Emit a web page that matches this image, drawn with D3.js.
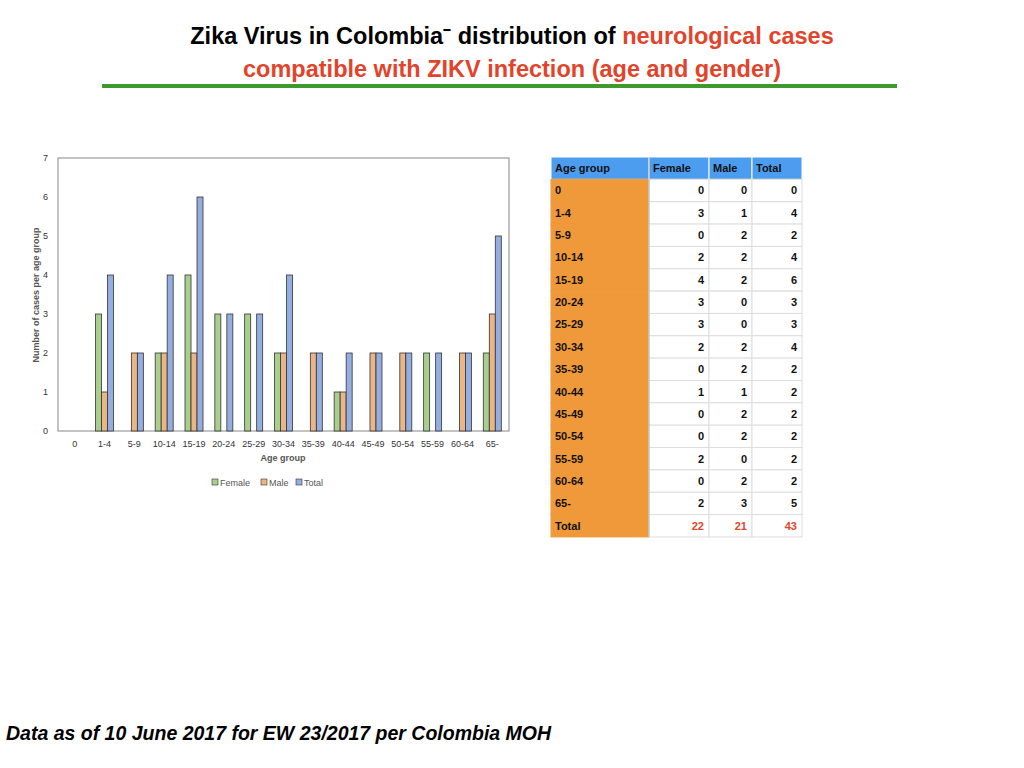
<!DOCTYPE html>
<html><head><meta charset="utf-8">
<script src="https://cdn.jsdelivr.net/npm/d3@7"></script>
<style>body{margin:0;background:#fff;font-family:"Liberation Sans",Arial,sans-serif}</style>
</head><body><svg id="canvas" width="1024" height="768"></svg>
<script>
var ageGroups=["0","1-4","5-9","10-14","15-19","20-24","25-29","30-34","35-39","40-44","45-49","50-54","55-59","60-64","65-"];
var female=[0,3,0,2,4,3,3,2,0,1,0,0,2,0,2];
var male=[0,1,2,2,2,0,0,2,2,1,2,2,0,2,3];
var total=[0,4,2,4,6,3,3,4,2,2,2,2,2,2,5];
var seriesNames=["Female","Male","Total"];
var colors=["#a9cf8e","#eab587","#94aee0"];
var yTicks=[0,1,2,3,4,5,6,7];

var svg=d3.select("#canvas");
var txtColor="#333";

// title
svg.append("text").attr("x",512).attr("y",44).attr("text-anchor","middle")
  .style("font-size","23.5px").style("font-weight","bold")
  .call(function(t){
    t.append("tspan").attr("fill","#000").text("Zika Virus in Colombia\u207B  distribution of ");
    t.append("tspan").attr("fill","#e2442b").text("neurological cases");
  });
svg.append("text").attr("x",512).attr("y",77).attr("text-anchor","middle")
  .style("font-size","23.5px").style("font-weight","bold").attr("fill","#e2442b")
  .text("compatible with ZIKV infection (age and gender)");
svg.append("line").attr("x1",102).attr("x2",897).attr("y1",86).attr("y2",86)
  .attr("stroke","#3f9a2e").attr("stroke-width",4);

// chart
var pLeft=58,pRight=509,pTop=158,pBottom=431;
var x=d3.scaleBand().domain(ageGroups).range([pLeft,pRight]).paddingInner(0).paddingOuter(0.06);
var y=d3.scaleLinear().domain([0,7]).range([pBottom,pTop]);
svg.append("rect").attr("x",pLeft).attr("y",pTop).attr("width",pRight-pLeft).attr("height",pBottom-pTop)
  .attr("fill","none").attr("stroke","#888");
svg.append("g").selectAll("text").data(yTicks).enter().append("text")
  .attr("x",pLeft-10).attr("y",function(d){return y(d)+3}).attr("text-anchor","end")
  .style("font-size","9px").attr("fill",txtColor).text(function(d){return d});
svg.append("g").selectAll("text").data(ageGroups).enter().append("text")
  .attr("x",function(d){return x(d)+x.bandwidth()/2}).attr("y",pBottom+16).attr("text-anchor","middle")
  .style("font-size","9px").attr("fill",txtColor).text(function(d){return d});
svg.append("text").attr("x",283).attr("y",pBottom+30).attr("text-anchor","middle")
  .style("font-size","9px").style("font-weight","bold").attr("fill","#555").text("Age group");
svg.append("text").attr("transform","translate(39,295) rotate(-90)").attr("text-anchor","middle")
  .style("font-size","9px").style("font-weight","bold").attr("fill","#555").text("Number  of cases per age group");

var barW=6;
var series=[female,male,total];
series.forEach(function(vals,si){
  svg.append("g").selectAll("rect").data(vals).enter().append("rect")
    .attr("x",function(d,i){return x(ageGroups[i])+x.bandwidth()/2-barW*1.5+si*barW})
    .attr("y",function(d){return y(d)})
    .attr("width",barW).attr("height",function(d){return pBottom-y(d)})
    .attr("fill",colors[si]).attr("stroke","#333").attr("stroke-width",0.8)
    .style("display",function(d){return d>0?null:"none"});
});

// legend
var lg=svg.append("g");
var lx=[212,261,296];
seriesNames.forEach(function(n,i){
  lg.append("rect").attr("x",lx[i]).attr("y",479).attr("width",6).attr("height",6)
    .attr("fill",colors[i]).attr("stroke","#333").attr("stroke-width",0.6);
  lg.append("text").attr("x",lx[i]+8).attr("y",486).style("font-size","9px").attr("fill","#555").text(n);
});

// table
var colX=[551,649,709,752,802];
var rowH=22.35, tTop=157;
var header=["Age group","Female","Male","Total"];
var rows=ageGroups.map(function(g,i){return [g,female[i],male[i],total[i]]});
rows.push(["Total",d3.sum(female),d3.sum(male),d3.sum(total)]);
var tb=svg.append("g").style("font-size","11px").style("font-weight","bold");
header.forEach(function(h,c){
  tb.append("rect").attr("x",colX[c]).attr("y",tTop).attr("width",colX[c+1]-colX[c]).attr("height",rowH)
    .attr("fill","#4c9cf0").attr("stroke","#fff").attr("stroke-width",1);
  tb.append("text").attr("x",colX[c]+4).attr("y",tTop+15).attr("fill","#111").text(h);
});
rows.forEach(function(r,ri){
  var ry=tTop+rowH*(ri+1);
  r.forEach(function(v,c){
    tb.append("rect").attr("x",colX[c]).attr("y",ry).attr("width",colX[c+1]-colX[c]).attr("height",rowH)
      .attr("fill",c==0?"#f0993a":"#fff").attr("stroke",c==0?"#f0993a":"#ddd").attr("stroke-width",1);
    var last=ri==rows.length-1;
    tb.append("text").attr("x",c==0?colX[c]+4:colX[c+1]-5).attr("y",ry+15)
      .attr("text-anchor",c==0?"start":"end")
      .attr("fill",(last&&c>0)?"#e2442b":"#111").text(v);
  });
});
svg.append("line").attr("x1",649).attr("x2",649).attr("y1",tTop).attr("y2",tTop+rowH*17).attr("stroke","#bbb");

svg.append("text").attr("x",6).attr("y",740).style("font-size","19.5px").style("font-weight","bold")
  .style("font-style","italic").text("Data as of 10 June 2017 for EW 23/2017 per Colombia MOH");
</script></body></html>
